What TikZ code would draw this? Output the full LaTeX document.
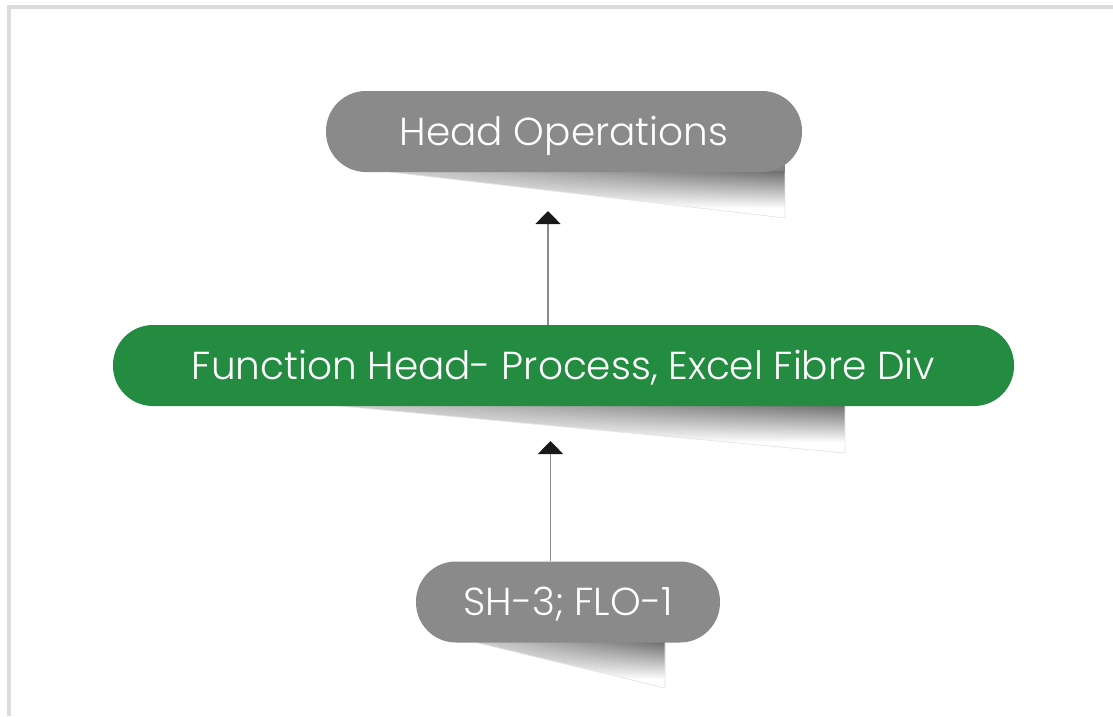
\documentclass[tikz,border=0pt]{standalone}
\usepackage{fontspec}
\IfFontExistsTF{Poppins Light}{\setmainfont{Poppins Light}}{\setmainfont{Poppins}}
\usetikzlibrary{arrows.meta,fadings}
\definecolor{nodegray}{RGB}{137,138,137}
\definecolor{nodegreen}{RGB}{35,140,65}
\definecolor{framegray}{RGB}{220,220,218}
\definecolor{linegray}{RGB}{140,140,140}
\pgfdeclarehorizontalshading{hshadow}{100bp}{color(0bp)=(white); color(40bp)=(black!30); color(82bp)=(black!62); color(94bp)=(black!45); color(100bp)=(black!12)}
\tikzfading[name=vfade, top color=transparent!0, middle color=transparent!45, bottom color=transparent!100]
% #1 left x, #2 right x, #3 node centre y, #4 node bottom y, #5 shadow bottom y
\newcommand\pillshadow[5]{%
  \begin{scope}
    \clip (#1,#4) -- (#2,#3) -- (#2,#5) -- cycle;
    \fill[black!50] (#1,#3) rectangle (#2,#4);
    \shade[shading=hshadow, path fading=vfade] (#1,#4-1) rectangle (#2,#4+36);
  \end{scope}
  \draw[black!10, line width=0.7pt] (#1,#4) -- (#2,#5) -- (#2,#4);
}
\tikzset{
  pill/.style={rectangle, rounded corners=40pt, minimum height=81pt, inner sep=0pt,
    text=white, font=\fontsize{39}{44}\selectfont, text height=27.5pt, text depth=0pt},
  graypill/.style={pill, fill=nodegray},
  greenpill/.style={pill, fill=nodegreen},
  uparrow/.style={draw=linegray, line width=1.4pt,
    -{Triangle[width=25pt,length=13pt,color=black!90]}}
}
\begin{document}
\begin{tikzpicture}[x=1pt,y=-1pt]
  \useasboundingbox (0,0) rectangle (1113,716);
  \fill[white] (0,0) rectangle (1113,716);
  % frame
  \fill[framegray] (7,5) rectangle (1113,9);
  \fill[framegray] (7,5) rectangle (11,716);
  % shadows
  \pillshadow{390}{785}{140}{172}{218}
  \pillshadow{340}{845}{375}{406}{453}
  \pillshadow{478}{665}{610}{643}{688}
  % nodes
  \node[graypill, minimum width=476pt] (ho) at (564,131.5) {Head Operations};
  \node[greenpill, minimum width=901pt] (fn) at (563.5,365.5) {Function Head- Process, Excel Fibre Div};
  \node[graypill, minimum width=304pt] (sh) at (568,602) {SH-3; FLO-1};
  % arrow tips
  \coordinate (tipA) at (548,211);
  \coordinate (tipB) at (550.5,441);
  \draw[uparrow] (tipA |- fn.north) -- (tipA);
  \draw[uparrow] (tipB |- sh.north) -- (tipB);
\end{tikzpicture}
\end{document}
